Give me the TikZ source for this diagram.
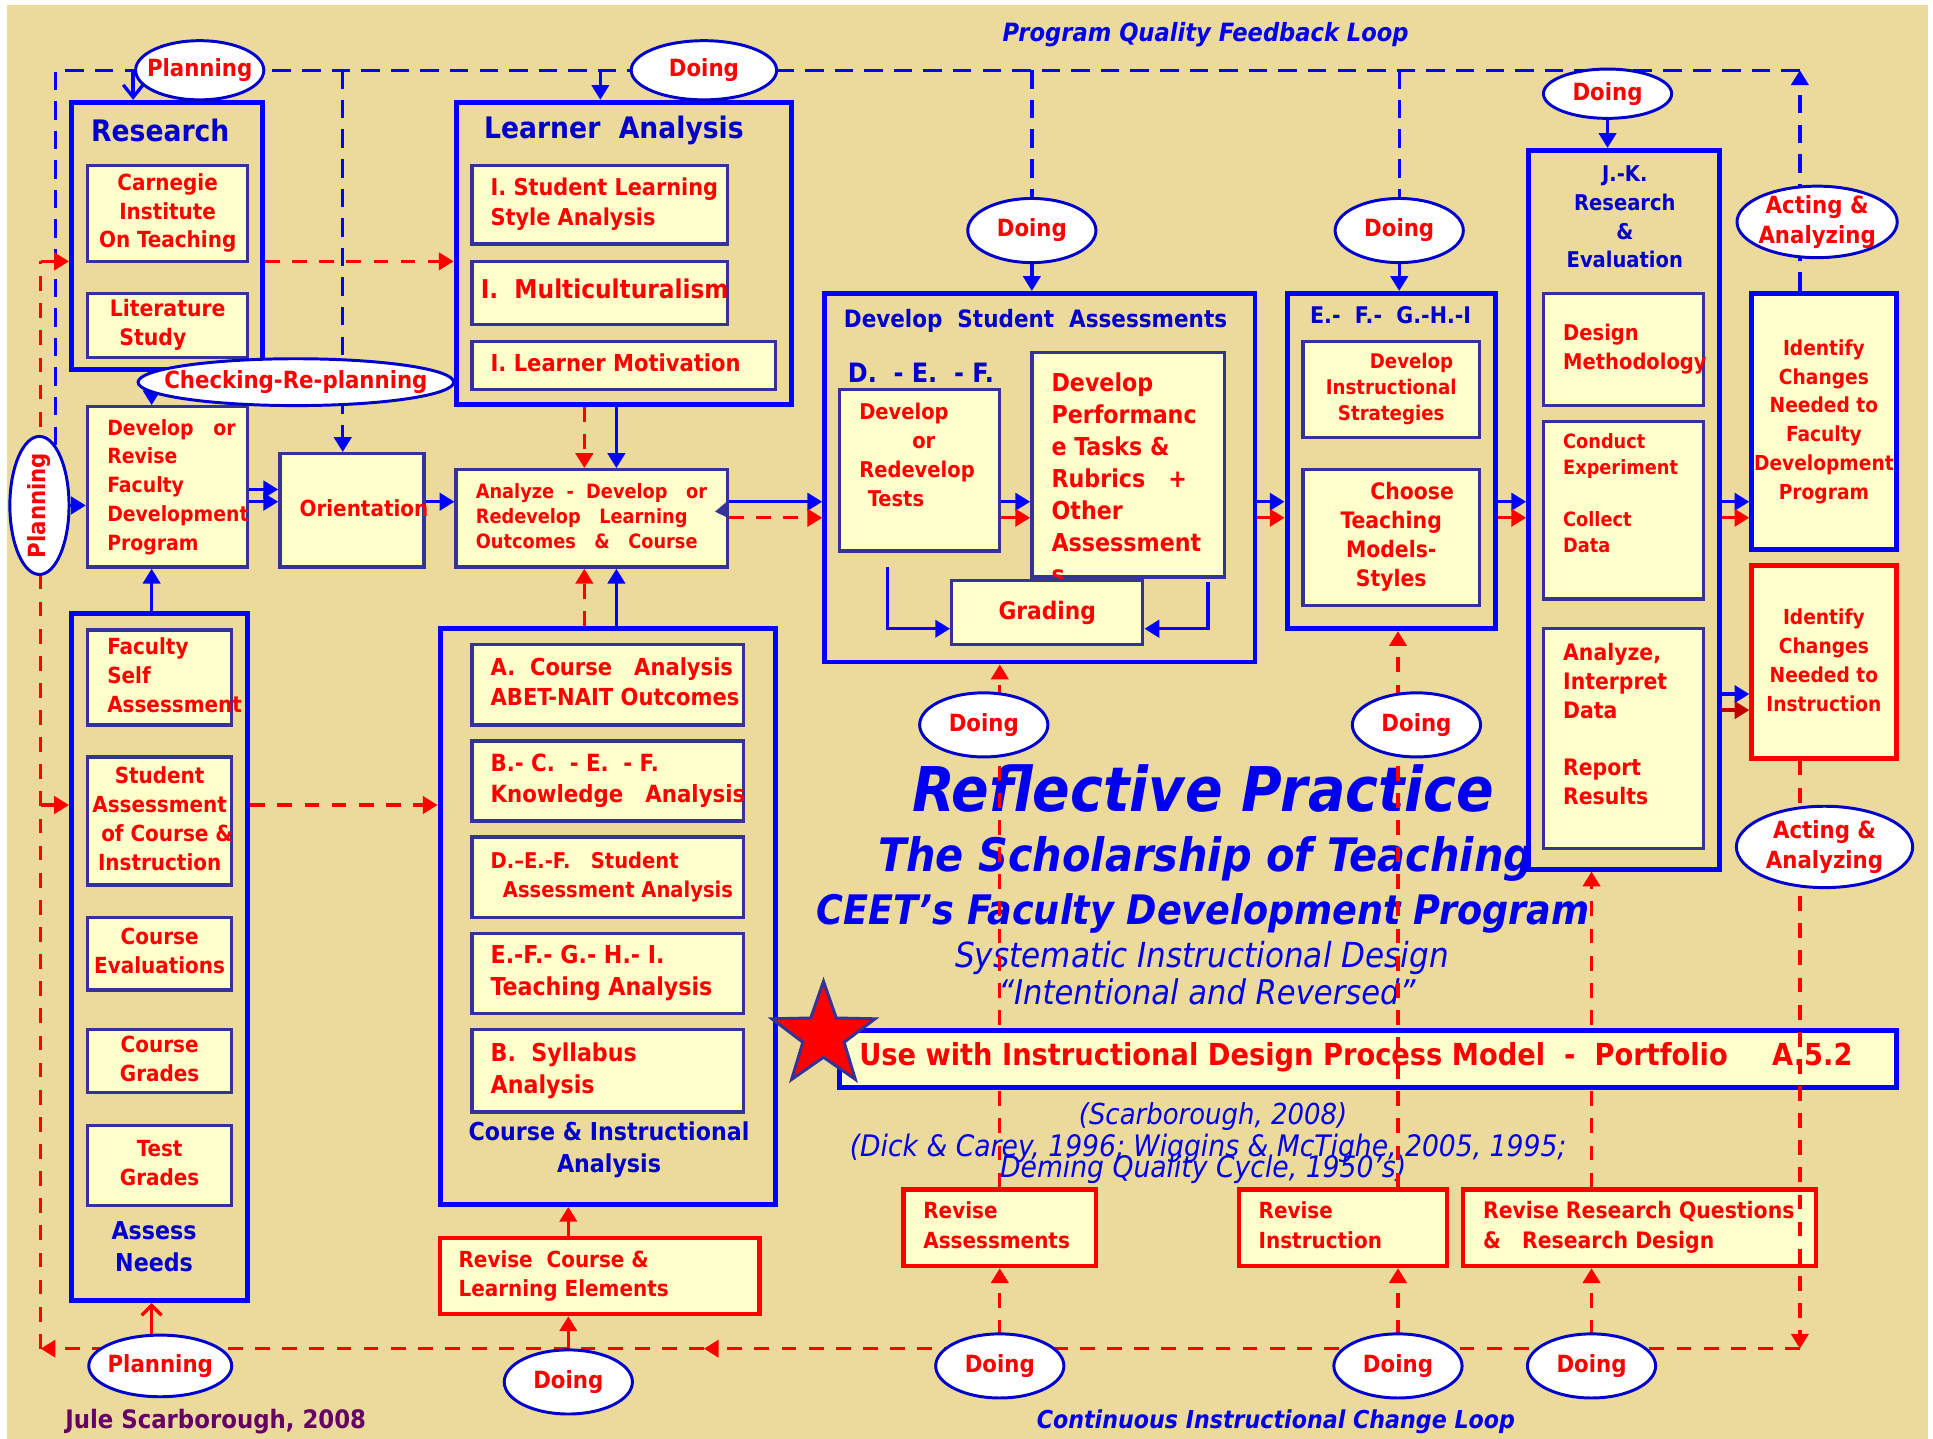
\documentclass[tikz,border=0pt]{standalone}
\usepackage{fontspec}
\newfontfamily\cf{DejaVu Sans Condensed}
\usetikzlibrary{shapes.geometric,arrows.meta,calc}
\definecolor{bgtan}{HTML}{EBDA9C}
\definecolor{ylw}{HTML}{FFFFCC}
\definecolor{ind}{HTML}{333399}
\definecolor{bl}{HTML}{0000FF}
\definecolor{tb}{HTML}{0000CC}
\definecolor{tt}{HTML}{0000EE}
\definecolor{rd}{HTML}{FF0000}
\definecolor{dr}{HTML}{C00000}
\definecolor{pu}{HTML}{660066}
\newcommand\fs[2]{\fontsize{#1}{#2}\selectfont}
\newcommand\rf[2]{\cf\bfseries\fs{#1}{#2}}
\newcommand\pl[3]{\raisebox{#1}[\height][\depth]{\makebox[#2][l]{\begin{tabular}{@{}l@{}}#3\end{tabular}}}}
\newcommand\pc[3]{\raisebox{#1}[\height][\depth]{\makebox[#2][c]{\begin{tabular}{@{}c@{}}#3\end{tabular}}}}
\tikzset{
  bb/.style n args={4}{at={({(#1+#3)/2},{(#2+#4)/2})}, minimum width={(#3-#1)*0.5pt}, minimum height={(#4-#2)*0.5pt}},
  obox/.style={draw=bl, line width=2pt, inner sep=0pt},
  ibox/.style={draw=ind, line width=1.35pt, fill=ylw, inner sep=0pt, text=rd, font=\rf{9}{11.7}},
  rbox/.style={draw=rd, line width=1.75pt, fill=ylw, inner sep=0pt, text=rd, font=\rf{9}{12}},
  idbox/.style={fill=ylw, line width=2pt, inner sep=0pt, text=rd, font=\rf{8.4}{11.7}},
  ell/.style={ellipse, draw=tb, line width=1.2pt, fill=white, inner xsep=-12pt, inner ysep=-4pt, text=rd, font=\rf{9.6}{12}, align=center},
  btxt/.style={text=tb, font=\rf{12}{14}, inner sep=0pt, align=center},
  ttl/.style={text=tt, inner sep=0pt, anchor=base},
  arr/.style={-{Triangle[length=6pt,width=7pt]}},
  bline/.style={draw=bl, line width=1.35pt},
  rline/.style={draw=rd, line width=1.35pt},
  bdash/.style={bline, dash pattern=on 7.5pt off 4.5pt},
  rdash/.style={rline, dash pattern=on 6pt off 5pt},
}
\begin{document}
\begin{tikzpicture}[x=0.5pt,y=-0.5pt]
\useasboundingbox (0,0) rectangle (1568,1167);
\fill[white] (0,0) rectangle (1568,1167);
\fill[bgtan] (6,4) rectangle (1564,1167);

% ---------- helper coordinates ----------
\coordinate (fbR) at (1460,57);
\coordinate (fbL) at (45,57);
\coordinate (lpR) at (1460,1094);
\coordinate (lpM) at (571,1094);
\coordinate (lpL) at (33,1094);
\coordinate (lpRes) at (33,212);
\coordinate (lpAs) at (33,653);
\coordinate (tR) at (108,57);
\coordinate (tO) at (278,57);
\coordinate (tL) at (487,57);
\coordinate (tD) at (837,57);
\coordinate (tE) at (1135,57);
\coordinate (Y212) at (0,212);
\coordinate (Y310) at (0,310);
\coordinate (Y397) at (0,397);
\coordinate (Y407) at (0,407);
\coordinate (Y410) at (0,410);
\coordinate (Y420) at (0,420);
\coordinate (Y510) at (0,510);
\coordinate (Y563) at (0,563);
\coordinate (Y576) at (0,576);
\coordinate (Y653) at (0,653);
\coordinate (X123) at (123,0);
\coordinate (X461) at (461,0);
\coordinate (X474) at (474,0);
\coordinate (X500) at (500,0);
\coordinate (X811) at (811,0);
\coordinate (X837) at (837,0);
\coordinate (X1134) at (1134,0);
\coordinate (X1135) at (1135,0);
\coordinate (X1291) at (1291,0);
\coordinate (X1304) at (1304,0);
\coordinate (gL) at (720,460);
\coordinate (gR) at (980,472);
\coordinate (eA) at (837,212);
\coordinate (eB) at (1135,212);
\coordinate (eC) at (1304,95);
\coordinate (eV) at (54,410);
\coordinate (eBot) at (0,1083);
\coordinate (eBotF) at (0,1095);

% ---------- free titles ----------
\node[ttl, font=\cf\bfseries\itshape\fs{10.2}{12}] (fbT) at (978,34) {Program Quality Feedback Loop};
\node[ttl, font=\cf\bfseries\itshape\fs{10}{12}] (loopT) at (1035,1159) {Continuous Instructional Change Loop};
\node[anchor=base, inner sep=0pt, text=pu, font=\rf{10.3}{12}] (auth) at (175,1159) {Jule Scarborough, 2008};
\node[ttl, font=\cf\bfseries\itshape\fs{25}{30}] (rp) at (976,658) {Reflective Practice};
\node[ttl, font=\cf\bfseries\itshape\fs{18.7}{22}] (sot) at (978,707) {The Scholarship of Teaching};
\node[ttl, font=\cf\bfseries\itshape\fs{16.5}{20}] (ceet) at (976,750) {CEET’s Faculty Development Program};
\node[ttl, font=\cf\itshape\fs{14}{16}] (sid) at (975,785) {Systematic Instructional Design};
\node[ttl, font=\cf\itshape\fs{13.8}{16}] (intent) at (979,815) {“Intentional and Reversed”};
\node[ttl, font=\cf\itshape\fs{11.7}{14}] (scar) at (984,912) {(Scarborough, 2008)};
\node[ttl, font=\cf\itshape\fs{12}{14}] (dick) at (980,938.5) {(Dick \& Carey, 1996; Wiggins \& McTighe, 2005, 1995;};
\node[ttl, font=\cf\itshape\fs{12}{14}] (dem) at (976,955) {Deming Quality Cycle, 1950’s)};

% ---------- outer boxes ----------
\node[obox, bb={58}{83}{213}{300}] (research) {};
\node[obox, bb={370}{83}{642}{328}] (la) {};
\node[obox, bb={58}{498}{201}{1055}] (assess) {};
\node[obox, bb={357}{510}{629}{977}] (cia) {};
\node[obox, bb={669}{238}{1018}{537}] (dsa) {};
\node[obox, bb={1044}{238}{1213}{510}] (efg) {};
\node[obox, bb={1240}{122}{1395}{705}] (jk) {};

\node[btxt] (researchT) at (130,106) {Research};
\node[btxt] (laT) at (498,106) {Learner~~Analysis};
\node[btxt, font=\rf{9.7}{12}] (dsaT) at (840,260) {Develop~~Student~~Assessments};
\node[btxt, font=\rf{10.8}{12}] (dsaL) at (747,302) {D.~~-~E.~~-~F.};
\node[btxt, font=\rf{9.3}{11}] (efgT) at (1128,256) {E.-~~F.-~~G.-H.-I};
\node[btxt, font=\rf{8.8}{11.7}] (jkT) at (1318,176) {J.-K.\\Research\\\&\\Evaluation};
\node[btxt, font=\rf{10}{13}] (ciaT) at (494,933) {Course \& Instructional\\Analysis};
\node[btxt, font=\rf{10}{13}] (assessT) at (125,1011) {Assess\\Needs};

% ---------- inner boxes ----------
\node[ibox, bb={71}{134}{201}{212}] (carn) {\pc{0pt}{60pt}{Carnegie\\Institute\\On Teaching}};
\node[ibox, bb={71}{238}{201}{290}, font=\rf{9.2}{11.5}] (lit) {\pc{0pt}{60pt}{Literature\\\hspace*{-12pt}Study}};
\node[ibox, bb={71}{330}{201}{460}, font=\rf{8.5}{11.65}] (devrev) {\pl{0pt}{49pt}{Develop~~~or\\Revise\\Faculty\\Development\\Program}};
\node[ibox, bb={227}{368}{344}{460}] (orient) {\pl{0pt}{42.5pt}{Orientation}};

\node[ibox, bb={383}{134}{590}{198}, font=\rf{9.4}{12}] (sls) {\pl{0pt}{88.5pt}{I.~Student Learning\\Style Analysis}};
\node[ibox, bb={383}{212}{590}{263}, font=\rf{10.5}{12}] (multi) {\pl{0pt}{96.5pt}{I.~~Multiculturalism}};
\node[ibox, bb={383}{277}{629}{316}, font=\rf{9.5}{12}] (motiv) {\pl{0pt}{108pt}{I.~Learner Motivation}};
\node[ibox, bb={370}{381}{590}{460}, font=\rf{8}{10.25}] (analyze) {\pl{0pt}{94pt}{Analyze~~-~~Develop~~~or\\Redevelop~~~Learning\\Outcomes~~~\&~~~Course}};

\node[ibox, bb={71}{511}{188}{588}] (fsa) {\pl{0pt}{42.5pt}{Faculty\\Self\\Assessment}};
\node[ibox, bb={71}{614}{188}{718}] (sac) {\pc{0pt}{55pt}{Student\\Assessment\\\hspace*{6pt}of Course \&\\Instruction}};
\node[ibox, bb={71}{744}{188}{803}] (ceval) {\pc{0pt}{55pt}{Course\\Evaluations}};
\node[ibox, bb={71}{835}{188}{886}] (cgr) {\pc{0pt}{55pt}{Course\\Grades}};
\node[ibox, bb={71}{913}{188}{978}] (tgr) {\pc{0pt}{55pt}{Test\\Grades}};

\node[ibox, bb={383}{523}{603}{588}, font=\rf{9.5}{12}] (ca) {\pl{0pt}{95pt}{A.~~Course~~~Analysis\\ABET-NAIT Outcomes}};
\node[ibox, bb={383}{601}{603}{666}, font=\rf{9.6}{12.5}] (kb) {\pl{0pt}{95pt}{B.-~C.~~-~E.~~-~F.\\Knowledge~~~Analysis}};
\node[ibox, bb={383}{679}{603}{744}, font=\rf{8.8}{12}] (da) {\pl{0pt}{95pt}{D.–E.-F.~~~Student\\\hspace*{5pt}Assessment Analysis}};
\node[ibox, bb={383}{757}{603}{822}, font=\rf{10}{13}] (ta) {\pl{0pt}{95pt}{E.-F.-~G.-~H.-~I.\\Teaching Analysis}};
\node[ibox, bb={383}{835}{603}{902}, font=\rf{10}{13}] (sa) {\pl{0pt}{95pt}{B.~~Syllabus\\Analysis}};

\node[rbox, bb={357}{1004}{616}{1066}] (revc) {\pl{0pt}{114.5pt}{Revise~~Course \&\\Learning Elements}};
\node[rbox, bb={733}{965}{889}{1027}] (ras) {\pl{0pt}{62pt}{Revise\\Assessments}};
\node[rbox, bb={1005}{965}{1174}{1027}] (ri) {\pl{0pt}{68.5pt}{Revise\\Instruction}};
\node[rbox, bb={1187}{965}{1473}{1027}, font=\rf{9.2}{12}] (rrq) {\pl{0pt}{127pt}{Revise Research Questions\\\&~~~Research Design}};

\node[ibox, bb={681}{316}{811}{447}, font=\rf{8.8}{11.7}] (tests) {\pl{5.25pt}{49pt}{Develop\\\hspace*{21.5pt}or\\Redevelop\\\hspace*{3.5pt}Tests}};
\node[ibox, bb={837}{291}{993}{463}, font=\rf{10}{13}] (perf) {\pl{-6.75pt}{62pt}{Develop\\Performanc\\e Tasks \&\\Rubrics~~~+\\Other\\Assessment\\s}};
\node[ibox, bb={772}{471}{927}{523}, font=\rf{9.8}{12}] (grading) {Grading};

\node[ibox, bb={1057}{277}{1200}{355}, font=\rf{8.2}{10.5}] (dis) {\pc{0pt}{65pt}{\hspace*{16.5pt}Develop\\Instructional\\Strategies}};
\node[ibox, bb={1057}{381}{1200}{491}, font=\rf{9.2}{11.8}] (ctm) {\pc{0pt}{65pt}{\hspace*{17pt}Choose\\Teaching\\Models-\\Styles}};

\node[ibox, bb={1252}{238}{1382}{329}, font=\rf{8.8}{11.5}] (dm) {\pl{0pt}{49pt}{Design\\Methodology}};
\node[ibox, bb={1252}{342}{1382}{486}, font=\rf{8}{10.5}] (ce) {\pl{6pt}{49pt}{Conduct\\Experiment\\[10.5pt]Collect\\Data}};
\node[ibox, bb={1252}{510}{1382}{688}, font=\rf{9.2}{11.7}] (air) {\pl{4.75pt}{49pt}{Analyze,\\Interpret\\Data\\[11.7pt]Report\\Results}};

\node[idbox, draw=bl, bb={1421}{238}{1538}{446}] (idf) {\pc{0pt}{58pt}{Identify\\Changes\\Needed to\\Faculty\\Development\\Program}};
\node[idbox, draw=rd, bb={1421}{459}{1538}{615}] (idi) {\pc{0pt}{58pt}{Identify\\Changes\\Needed to\\Instruction}};

% these two red loops pass behind the portfolio banner
\draw[rdash, arr] (ras.north) -- (ras.north |- dsa.south);
\draw[rdash, arr] (X1291 |- rrq.north) -- (X1291 |- jk.south);

\node[ibox, draw=bl, line width=2pt, bb={681}{836}{1538}{882}, font=\rf{12.3}{14}] (use) {\pl{0pt}{412.5pt}{Use with Instructional Design Process Model~~-~~Portfolio\hspace{18pt}A.5.2}};
\node[star, star points=5, star point ratio=2.5, minimum size=44pt, fill=rd, draw=ind, line width=1.2pt, inner sep=0pt] (star) at (668,840) {};

% ---------- program quality feedback loop (blue) ----------
\draw[bdash, arr] (idf.north -| fbR) -- (fbR);
\draw[bdash] (fbR) -- (fbL) -- (fbL |- Y410);
\draw[bline, -{Straight Barb[length=5pt,width=8pt]}] (tR) -- (tR |- research.north);
\draw[bdash, arr] (tO) -- (tO |- orient.north);
\draw[bline, arr] (tL) -- (tL |- la.north);
\draw[bdash] (tD) -- (eA);
\draw[bdash, arr] (eA) -- (X837 |- dsa.north);
\draw[bdash] (tE) -- (eB);
\draw[bdash, arr] (eB) -- (X1135 |- efg.north);
\draw[bline, arr] (eC) -- (X1304 |- jk.north);
\draw[bline, arr] (eV) -- (devrev.west |- Y410);

% ---------- continuous instructional change loop (red) ----------
\draw[rdash, arr] (idi.south -| lpR) -- (lpR);
\draw[rdash, arr] (lpR) -- (lpM);
\draw[rdash, arr] (lpM) -- (lpL);
\draw[rdash] (lpL) -- (lpRes);
\draw[rline, arr] (lpRes) -- (research.west |- lpRes);
\draw[rline, arr] (lpAs) -- (assess.west |- lpAs);

% ---------- flow connectors ----------
\draw[rdash, arr] (research.east |- Y212) -- (la.west |- Y212);
\draw[rdash, arr] (assess.east |- Y653) -- (cia.west |- Y653);
\draw[bline, arr] (devrev.east |- Y397) -- (orient.west |- Y397);
\draw[bline, arr] (devrev.east |- Y407) -- (orient.west |- Y407);
\draw[bline, arr] (orient.east |- Y407) -- (analyze.west |- Y407);
\draw[bline, arr] (assess.north -| X123) -- (X123 |- devrev.south);
\draw[bline, arr] (X123 |- Y310) -- (X123 |- devrev.north);
\draw[rdash, arr] (la.south -| X474) -- (analyze.north -| X474);
\draw[bline, arr] (la.south -| X500) -- (analyze.north -| X500);
\draw[rdash, arr] (cia.north -| X474) -- (analyze.south -| X474);
\draw[bline, arr] (cia.north -| X500) -- (analyze.south -| X500);
\draw[bline, arr] (analyze.east |- Y407) -- (dsa.west |- Y407);
\draw[rdash, arr] (analyze.east |- Y420) -- (dsa.west |- Y420);
\fill[ind] (589.5,407) -- (580,415) -- (589.5,419.6) -- cycle;
\draw[bline, arr] (tests.east |- Y407) -- (perf.west |- Y407);
\draw[rline, arr] (tests.east |- Y420) -- (perf.west |- Y420);
\draw[bline, arr] (gL) |- (grading.west |- Y510);
\draw[bline, arr] (gR) |- (grading.east |- Y510);
\draw[bline, arr] (dsa.east |- Y407) -- (efg.west |- Y407);
\draw[rline, arr] (dsa.east |- Y420) -- (efg.west |- Y420);
\draw[bline, arr] (efg.east |- Y407) -- (jk.west |- Y407);
\draw[rline, arr] (efg.east |- Y420) -- (jk.west |- Y420);
\draw[bline, arr] (jk.east |- Y407) -- (idf.west |- Y407);
\draw[rline, arr] (jk.east |- Y420) -- (idf.west |- Y420);
\draw[bline, arr] (jk.east |- Y563) -- (idi.west |- Y563);
\draw[draw=dr, line width=1.35pt, arr] (jk.east |- Y576) -- (idi.west |- Y576);

% revise loops
\draw[rdash, arr] (X811 |- eBot) -- (ras.south);
\draw[rdash, arr] (X1134 |- eBot) -- (ri.south -| X1134);
\draw[rdash, arr] (ri.north -| X1134) -- (X1134 |- efg.south);
\draw[rdash, arr] (X1291 |- eBot) -- (X1291 |- rrq.south);
\draw[rline, arr] (X461 |- eBotF) -- (X461 |- revc.south);
\draw[rline, arr] (X461 |- revc.north) -- (X461 |- cia.south);
\draw[rline, -{Straight Barb[length=4pt,width=8pt]}] (X123 |- eBot) -- (X123 |- assess.south);

% ---------- ellipses ----------
\node[ell, minimum width=52pt, minimum height=24pt] (planT) at (162,57) {Planning};
\node[ell, minimum width=59pt, minimum height=24pt] (doT) at (571,57) {Doing};
\node[ell, minimum width=52pt, minimum height=26pt] (doA) at (837,187) {Doing};
\node[ell, minimum width=52pt, minimum height=26pt] (doB) at (1135,187) {Doing};
\node[ell, minimum width=52pt, minimum height=20pt] (doC) at (1304,76) {Doing};
\node[ell, minimum width=65pt, minimum height=29pt] (actT) at (1474,180) {Acting \&\\Analyzing};
\node[ell, minimum width=128pt, minimum height=19pt] (checkE) at (240,310) {Checking-Re-planning};
\node[ell, rotate=90, minimum width=56pt, minimum height=24pt] (planV) at (32,410) {Planning};
\node[ell, minimum width=52pt, minimum height=26pt] (doD) at (798,588) {Doing};
\node[ell, minimum width=52pt, minimum height=26pt] (doE) at (1149,588) {Doing};
\node[ell, minimum width=71.5pt, minimum height=33pt] (actB) at (1480,687) {Acting \&\\Analyzing};
\node[ell, minimum width=58pt, minimum height=25pt] (planB) at (130,1108) {Planning};
\node[ell, minimum width=52pt, minimum height=26pt] (doF) at (461,1121) {Doing};
\node[ell, minimum width=52pt, minimum height=26pt] (doG) at (811,1108) {Doing};
\node[ell, minimum width=52pt, minimum height=26pt] (doH) at (1134,1108) {Doing};
\node[ell, minimum width=52pt, minimum height=26pt] (doI) at (1291,1108) {Doing};
\end{tikzpicture}
\end{document}
